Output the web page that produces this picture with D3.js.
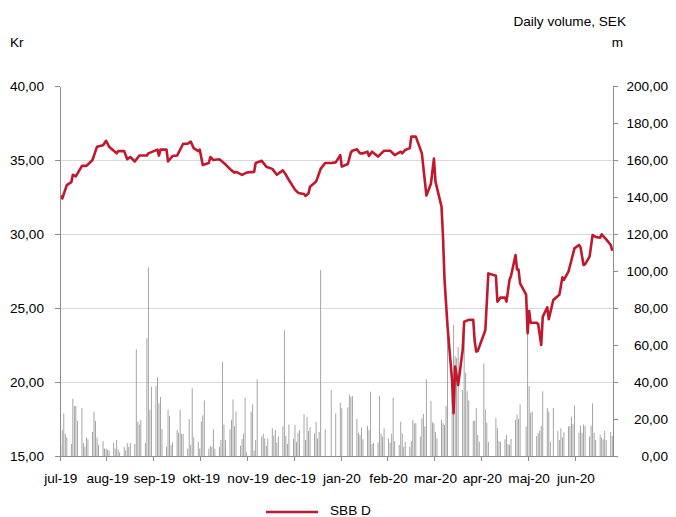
<!DOCTYPE html>
<html>
<head>
<meta charset="UTF-8">
<title>SBB D</title>
<script src="https://d3js.org/d3.v7.min.js"></script>
<style>
    body { margin: 0; background: #fff; }
    svg text { font-family: "Liberation Sans", Arial, sans-serif; font-size: 13.6px; fill: #000; }
    .axis path, .axis line { stroke: #8c8c8c; shape-rendering: crispEdges; }
    .grid line { stroke: #d9d9d9; shape-rendering: crispEdges; }
</style>
</head>
<body>
<script>
// ---- data ----
// x axis: one category per calendar day, a tick every 31 categories
const firstDay = "2019-07-01";
const lastDay = "2020-06-30";
const tickEvery = 31;
const tickLabels = ["jul-19", "aug-19", "sep-19", "okt-19", "nov-19", "dec-19",
    "jan-20", "feb-20", "mar-20", "apr-20", "maj-20", "jun-20"];

const priceTicks = [15, 20, 25, 30, 35, 40];
const volumeTicks = [0, 20, 40, 60, 80, 100, 120, 140, 160, 180, 200];

// SBB D closing price (Kr), turning points of the line
const priceDates = [
    "2019-07-01", "2019-07-02", "2019-07-05", "2019-07-08", "2019-07-09", "2019-07-11", "2019-07-15", "2019-07-18",
    "2019-07-22", "2019-07-25", "2019-07-29", "2019-07-31",
    "2019-08-02", "2019-08-07", "2019-08-08", "2019-08-12", "2019-08-14", "2019-08-16", "2019-08-19", "2019-08-22",
    "2019-08-27", "2019-08-28",
    "2019-09-03", "2019-09-04", "2019-09-05", "2019-09-09", "2019-09-10", "2019-09-13", "2019-09-16", "2019-09-20",
    "2019-09-23", "2019-09-25", "2019-09-27", "2019-09-30",
    "2019-10-01", "2019-10-03", "2019-10-07", "2019-10-08", "2019-10-10", "2019-10-14", "2019-10-17", "2019-10-22",
    "2019-10-24", "2019-10-25", "2019-10-29",
    "2019-11-01", "2019-11-06", "2019-11-07", "2019-11-11", "2019-11-14", "2019-11-18", "2019-11-21", "2019-11-25",
    "2019-11-27", "2019-11-29",
    "2019-12-03", "2019-12-05", "2019-12-06", "2019-12-09", "2019-12-10", "2019-12-12", "2019-12-13", "2019-12-17",
    "2019-12-19", "2019-12-20", "2019-12-23", "2019-12-27", "2019-12-30",
    "2020-01-02", "2020-01-03", "2020-01-07", "2020-01-09", "2020-01-10", "2020-01-13", "2020-01-15", "2020-01-17",
    "2020-01-20", "2020-01-21", "2020-01-23", "2020-01-27", "2020-01-31",
    "2020-02-04", "2020-02-07", "2020-02-11", "2020-02-12", "2020-02-14", "2020-02-17", "2020-02-18", "2020-02-21",
    "2020-02-25", "2020-02-28",
    "2020-03-02", "2020-03-04", "2020-03-05", "2020-03-09", "2020-03-10", "2020-03-11", "2020-03-13", "2020-03-16",
    "2020-03-17", "2020-03-18", "2020-03-20", "2020-03-23", "2020-03-24", "2020-03-27", "2020-03-30", "2020-03-31",
    "2020-04-01", "2020-04-02", "2020-04-07", "2020-04-09", "2020-04-14", "2020-04-15", "2020-04-17", "2020-04-20",
    "2020-04-21", "2020-04-23", "2020-04-24", "2020-04-27", "2020-04-28", "2020-04-29", "2020-04-30",
    "2020-05-04", "2020-05-05", "2020-05-06", "2020-05-07", "2020-05-11", "2020-05-12", "2020-05-14", "2020-05-15",
    "2020-05-18", "2020-05-19", "2020-05-22", "2020-05-26", "2020-05-28", "2020-05-29",
    "2020-06-01", "2020-06-05", "2020-06-08", "2020-06-09", "2020-06-11", "2020-06-12", "2020-06-15", "2020-06-17",
    "2020-06-19", "2020-06-22", "2020-06-23", "2020-06-26", "2020-06-29", "2020-06-30"
];
const priceValues = [
    32.6, 32.4, 33.3, 33.5, 34.0, 33.9, 34.6, 34.6,
    35.0, 35.9, 36.0, 36.3,
    35.9, 35.45, 35.6, 35.6, 35.05, 35.2, 34.9, 35.3,
    35.3, 35.45,
    35.7, 35.3, 35.7, 35.7, 34.9, 35.27, 35.3, 36.1,
    36.1, 36.24, 35.8, 35.6,
    35.7, 34.66, 34.8, 35.2, 35.0, 35.05, 34.8, 34.3,
    34.15, 34.2, 34.0,
    34.15, 34.2, 34.8, 34.95, 34.55, 34.4, 34.0, 34.3,
    34.0, 33.65,
    33.0, 32.8, 32.75, 32.7, 32.57, 32.75, 33.2, 33.54,
    34.1, 34.4, 34.8, 34.8, 34.84,
    35.33, 34.55, 34.73, 35.5, 35.63, 35.72, 35.45, 35.45,
    35.56, 35.27, 35.56, 35.23, 35.63,
    35.63, 35.33, 35.56, 35.45, 35.68, 35.8, 36.58, 36.58,
    35.45, 32.6,
    33.4, 35.1, 33.54, 31.85, 29.8, 26.9, 23.74, 20.1,
    17.9, 21.05, 19.8, 22.16, 24.07, 24.2, 24.2, 22.73,
    22.05, 22.1, 23.5, 27.34, 27.18, 25.43, 25.7, 25.7,
    25.43, 26.9, 27.16, 28.58, 27.6, 27.6, 26.67,
    25.9, 23.3, 24.8, 24.0, 24.0, 23.9, 22.5, 24.4,
    25.05, 24.24, 25.54, 25.9, 27.07, 26.9,
    27.45, 29.03, 29.26, 29.1, 27.9, 27.95, 28.47, 29.93,
    29.8, 29.75, 29.98, 29.64, 29.26, 28.87
];

// daily volume (SEK m), Monday to Friday from volumeStart; null = market closed
const volumeStart = "2019-07-01";
const volume = [
    6, 14, 23, 12, 10,          6.5, 31, 27, 27, 19,        26, 7, 5, 10, 9,
    13, 24, 19, 10, 6,          8, 4, 4, 3.5, 3,            7, 4, 8.6, 3.5, 2,
    5, 3, 7, 5, 7,              6.5, 57.7, 18.6, 17, 19.5,  7, 63.6, 102, 25, 37.5,
    37.8, 42.5, 28.5, 32, 14.6, 5, 25, 21.6, 6, 7.4,        14, 12.6, 25, 12, 12,
    4, 20, 6, 36.6, 10,         7.7, 4, 18.6, 22, 30,       4, 5.4, 5, 14.4, 4,
    5, 8.6, 51, 17, 8.6,        14.4, 19.5, 30.6, 16, 24,   5.6, 9.2, 12, 31.5, 2,
    24, 28, 3, 8.6, 41.4,       10.5, 12, 9.5, 5.4, 9.5,    15, 11, 14, 7.2, 10.5,
    16, 68, 10.8, 6.5, 17,      9.2, 16.8, 7.7, 12.6, 14,   22.7, 8.6, 21, 13.5, 15.5,
    12.2, 18.4, 9.5, 13, 100.5, 14.4, null, null, null, 35.7, 23, null, null, 28.8, 25.8,
    null, 26.3, 33.3, 32, 32.4, 20, 12.6, 11.4, 15.5, 9,    16.2, 14, 34.8, 6.5, 7.2,
    7.4, 32.4, 12, 10.5, 15,    9.5, 7.2, 12, 31.5, 8,      6, 18.6, 12.2, 5, 7.7,
    5, 8, 19.5, 17.7, 17.7,     10.5, 20.4, 22.7, 16, 41.4, 29.7, 18.2, 17.7, 13, 9.5,
    19.5, 17.7, 16.8, 27, 65.4, 45, 71, 54, 53, 59,         35.7, 68, 45, 35, 30,
    19, 19, 25.8, 11.4, 7.7,    50, 25.2, 18, 7.7, null,    null, 20.5, 15, 8, 7.7,
    9, 11.4, 6.5, 6, 9.2,       19.5, 22.5, 20, 28, null,   16, 66, 37.8, 23.4, 24,
    10.8, 12.2, 13.7, 16.2, 35, 26, 24, 7.7, null, 26,      13.5, 8.6, 15, 10, 12.8,
    16, 16.2, 21.3, 17.3, 27.4, 12.6, 16.4, 12.6, 17, 16.2, 10.5, 16.4, 28.5, 12.6, 8.6,
    11.4, 10, 9, 13.5, 8.6,     13, 10.8
];

// ---- chart ----
const W = 676, H = 517;
const plot = { left: 60, right: 613, top: 86, bottom: 456 };
const lineColor = "#c2182d";

const parse = d3.timeParse("%Y-%m-%d");
const key = d3.timeFormat("%Y-%m-%d");
const fmt = v => d3.format(".2f")(v).replace(".", ",");

const days = d3.timeDay.range(parse(firstDay), d3.timeDay.offset(parse(lastDay), 1)).map(key);

const x = d3.scaleBand().domain(days).range([plot.left, plot.right]).padding(0);
const bw = x.bandwidth();
const yP = d3.scaleLinear().domain([15, 40]).range([plot.bottom, plot.top]);
const yV = d3.scaleLinear().domain([0, 200]).range([plot.bottom, plot.top]);

// pair volumes with trading days
const volData = [];
let day = parse(volumeStart);
volume.forEach(v => {
    while (day.getDay() === 0 || day.getDay() === 6) day = d3.timeDay.offset(day, 1);
    if (v !== null) volData.push({ k: key(day), v: v });
    day = d3.timeDay.offset(day, 1);
});
const priceData = priceDates.map((d, i) => ({ k: d, v: priceValues[i] }));

const svg = d3.select("body").append("svg")
    .attr("width", W)
    .attr("height", H);

// horizontal gridlines
svg.append("g").attr("class", "grid")
    .selectAll("line")
    .data(priceTicks.filter(t => t > 15 && t < 40))
    .join("line")
    .attr("x1", plot.left).attr("x2", plot.right)
    .attr("y1", d => Math.round(yP(d)) + 0.5).attr("y2", d => Math.round(yP(d)) + 0.5);

// volume bars
svg.append("g")
    .selectAll("rect")
    .data(volData)
    .join("rect")
    .attr("x", d => x(d.k) + bw / 2 - 0.45)
    .attr("width", 0.9)
    .attr("y", d => yV(d.v))
    .attr("height", d => plot.bottom - yV(d.v))
    .attr("fill", "#9c9c9c");

// price line
const line = d3.line()
    .x(d => x(d.k) + bw / 2)
    .y(d => yP(d.v));

svg.append("path")
    .datum(priceData)
    .attr("fill", "none")
    .attr("stroke", lineColor)
    .attr("stroke-width", 2.6)
    .attr("stroke-linejoin", "round")
    .attr("d", line);

// axes
const xAxis = svg.append("g")
    .attr("class", "axis")
    .attr("transform", `translate(0,${plot.bottom})`)
    .call(d3.axisBottom(x)
        .tickValues(days.filter((d, i) => i % tickEvery === 0))
        .tickFormat((d, i) => tickLabels[i])
        .tickSize(5)
        .tickSizeOuter(0)
        .tickPadding(12));
xAxis.selectAll(".tick line").attr("x1", -bw / 2).attr("x2", -bw / 2);

svg.append("g")
    .attr("class", "axis")
    .attr("transform", `translate(${plot.left},0)`)
    .call(d3.axisLeft(yP)
        .tickValues(priceTicks)
        .tickFormat(fmt)
        .tickSize(5)
        .tickSizeOuter(0)
        .tickPadding(11));

const rAxis = svg.append("g")
    .attr("class", "axis")
    .attr("transform", `translate(${plot.right},0)`)
    .call(d3.axisRight(yV)
        .tickValues(volumeTicks)
        .tickFormat(fmt)
        .tickSize(5)
        .tickSizeOuter(0));
rAxis.selectAll(".tick text").attr("text-anchor", "end").attr("x", 55);

svg.selectAll(".axis text").attr("font-family", null).attr("font-size", null).attr("fill", null);

// axis titles
svg.append("text").attr("x", 10).attr("y", 47).text("Kr");
svg.append("text").attr("x", 626).attr("y", 26).attr("text-anchor", "end").text("Daily volume, SEK");
svg.append("text").attr("x", 623).attr("y", 47).attr("text-anchor", "end").text("m");

// legend
svg.append("line")
    .attr("x1", 266).attr("x2", 318)
    .attr("y1", 512).attr("y2", 512)
    .attr("stroke", lineColor)
    .attr("stroke-width", 2.6);
svg.append("text").attr("x", 330).attr("y", 515).text("SBB D");
</script>
</body>
</html>
